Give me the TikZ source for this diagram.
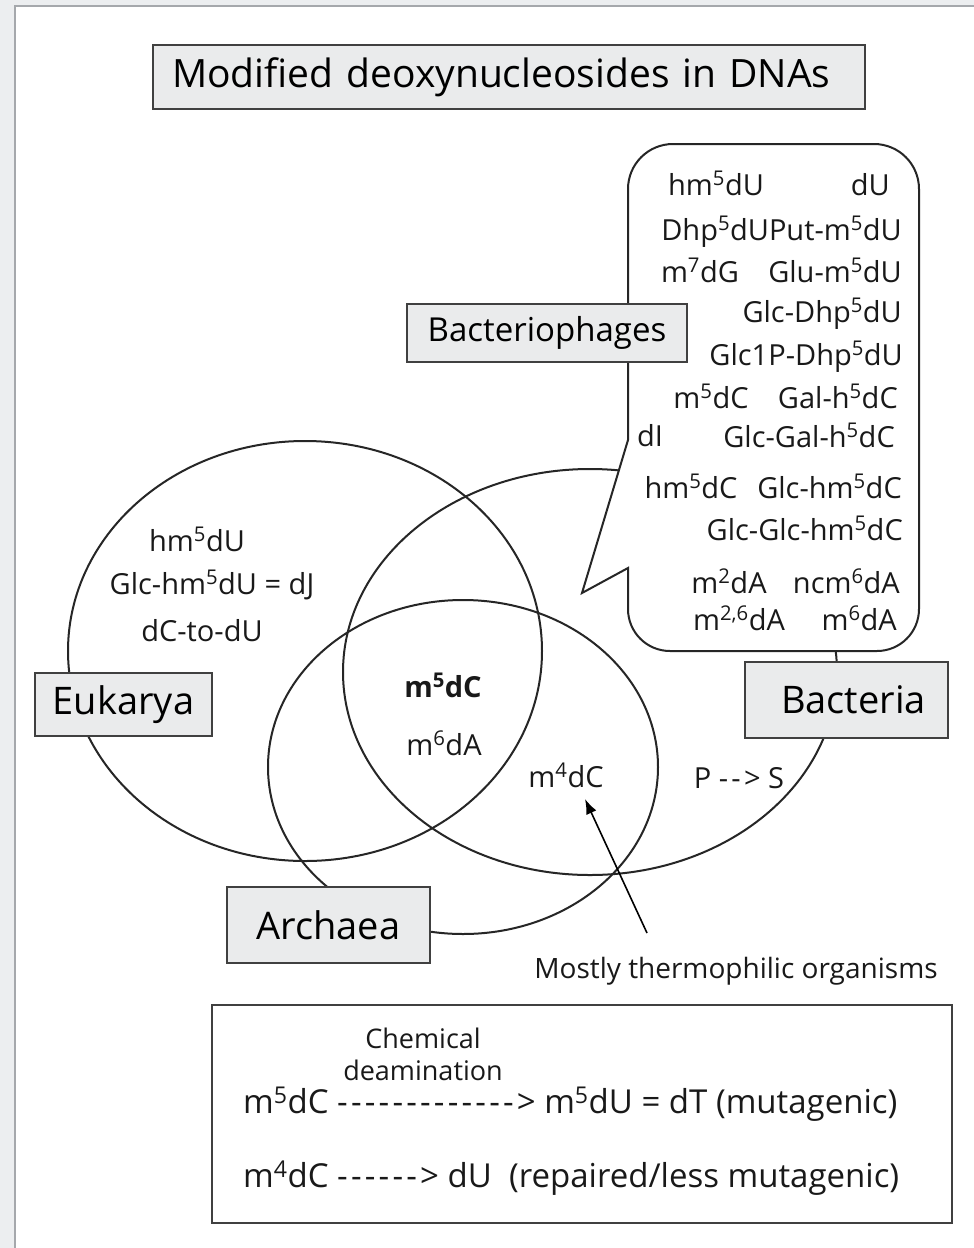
\documentclass[tikz,border=0pt]{standalone}
\usepackage{fontspec}
\setmainfont{Open Sans}
\usetikzlibrary{arrows.meta}

\definecolor{boxgray}{RGB}{234,235,236}
\definecolor{framegray}{RGB}{236,238,240}
\definecolor{edgegray}{RGB}{165,168,172}
\newcommand{\su}[1]{\textsuperscript{#1}}
\newcommand{\dsh}{-\kern3.2pt}
\newcommand{\dashes}[1]{\foreach \k in {1,...,#1}{\dsh}}

\begin{document}
\begin{tikzpicture}[x=1pt,y=-1pt,
  set/.style={line width=2pt,draw=black!85},
  label box/.style={draw=black!75,line width=1.6pt,fill=boxgray,inner sep=0pt},
  mol/.style={font=\fontsize{29}{34}\selectfont,inner sep=0pt,text=black!90},
  big/.style={font=\fontsize{38}{42}\selectfont},
  pointer/.style={line width=1.6pt,-{Latex[length=15pt,width=11pt]}}]
\useasboundingbox (0,0) rectangle (974,1248);
\fill[white] (0,0) rectangle (974,1248);
\fill[framegray] (0,0) rectangle (974,6);
\fill[framegray] (0,0) rectangle (15,1248);
\draw[edgegray,line width=1.5pt] (15,1248) -- (15,6) -- (974,6);

\draw[set] (305,651) ellipse [x radius=237, y radius=210];
\draw[set] (590,672) ellipse [x radius=247, y radius=203];
\draw[set] (463,767) ellipse [x radius=195, y radius=167];

\draw[set,fill=white] (628,440) -- (582,593) -- (628,568) -- (628,609)
  arc[start angle=180, end angle=90, radius=42] -- (877,651)
  arc[start angle=90, end angle=0, radius=42] -- (919,189)
  arc[start angle=0, end angle=-90, radius=45] -- (673,144)
  arc[start angle=-90, end angle=-180, radius=45] -- cycle;

\node[label box, minimum height=64, text width=674, inner xsep=19, align=left,
  font=\fontsize{39}{44}\selectfont] (title) at (509,77) {Modified deoxynucleosides in DNAs};
\node[label box, minimum width=280, minimum height=58, font=\fontsize{33}{38}\selectfont] (phage) at (547,333) {Bacteriophages};
\node[label box, big, minimum width=177, minimum height=63] (euk) at (123.5,704.5) {Eukarya};
\node[label box, big, minimum width=203, minimum height=76] (bact) at (846.5,700) {\hspace{14pt}Bacteria};
\node[label box, big, minimum width=203, minimum height=76] (arch) at (328.5,925) {Archaea\hspace{12pt}};

\node[mol,anchor=base] (hmU) at (716,195) {hm\su5dU};
\node[mol,anchor=base east] (dU) at (890,195) {dU};
\node[mol,anchor=base east] (dhp) at (902,240) {Dhp\su5dUPut-m\su5dU};
\node[mol,anchor=base] (mG) at (700,282) {m\su7dG};
\node[mol,anchor=base east] (glu) at (902,282) {Glu-m\su5dU};
\node[mol,anchor=base east] (glcdhp) at (902,322) {Glc-Dhp\su5dU};
\node[mol,anchor=base east] (glcp) at (903,365) {Glc1P-Dhp\su5dU};
\node[mol,anchor=base] (mC) at (711,408) {m\su5dC};
\node[mol,anchor=base east] (gal) at (898,408) {Gal-h\su5dC};
\node[mol,anchor=base] (dI) at (650,446) {dI};
\node[mol,anchor=base east] (glcgal) at (895,447) {Glc-Gal-h\su5dC};
\node[mol,anchor=base] (hmC) at (691,498) {hm\su5dC};
\node[mol,anchor=base east] (glchm) at (902,498) {Glc-hm\su5dC};
\node[mol,anchor=base east] (glcglc) at (903,540) {Glc-Glc-hm\su5dC};
\node[mol,anchor=base] (mA) at (729,593) {m\su2dA};
\node[mol,anchor=base east] (ncm) at (900,593) {ncm\su6dA};
\node[mol,anchor=base] (mmA) at (739,630) {m\su{2,6}dA};
\node[mol,anchor=base east] (m6A) at (897,630) {m\su6dA};

\node[mol,anchor=base] (euk1) at (197,551) {hm\su5dU};
\node[mol,anchor=base] (euk2) at (212,594) {Glc-hm\su5dU = dJ};
\node[mol,anchor=base] (euk3) at (202,641) {dC-to-dU};

\node[mol,anchor=base,font=\fontsize{29}{34}\selectfont\bfseries] (core1) at (443,697) {m\su5dC};
\node[mol,anchor=base] (core2) at (444,755) {m\su6dA};
\node[mol,anchor=base] (m4dC) at (566,787) {m\su4dC};
\node[mol,anchor=base] (ps) at (739,788) {P \dsh\dsh> S};

\node[mol,anchor=base,font=\fontsize{28}{32}\selectfont] (thermo) at (736,978) {Mostly thermophilic organisms};
\coordinate (tail) at (647,933);
\coordinate (tip) at (585,799);
\draw[pointer] (tail) -- (tip);

\node[draw=black!75,line width=1.6pt,minimum width=740,minimum height=218,inner sep=0pt] (note) at (582,1114) {};
\node[mol,align=center,font=\fontsize{27}{32}\selectfont] (deam) at (423,1054) {Chemical\\deamination};
\node[mol,anchor=base west,font=\fontsize{33}{38}\selectfont] (react1) at (243,1113) {m\su5dC \dashes{13}> m\su5dU = dT (mutagenic)};
\node[mol,anchor=base west,font=\fontsize{33}{38}\selectfont] (react2) at (243,1187) {m\su4dC \dashes{6}> dU\ \ (repaired/less mutagenic)};
\end{tikzpicture}
\end{document}
